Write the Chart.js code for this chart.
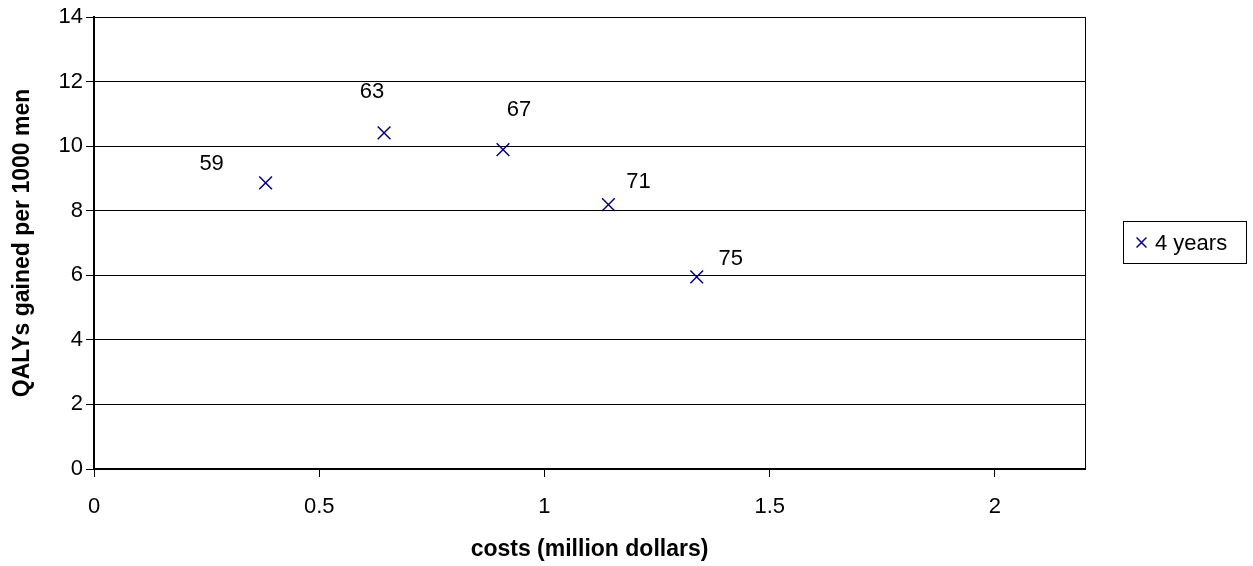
<!DOCTYPE html>
<html>
<head>
<meta charset="utf-8">
<script src="https://cdn.jsdelivr.net/npm/chart.js@4/dist/chart.umd.min.js"></script>
<style>
  html, body { margin: 0; padding: 0; background: #fff; }
  #wrap { width: 1253px; height: 566px; }
</style>
</head>
<body>
<div id="wrap"><canvas id="c" width="1253" height="566"></canvas></div>
<script>
// Screening age at each point, with its cost and QALY gain
const ages = ['59', '63', '67', '71', '75'];
const costs = [0.381, 0.644, 0.908, 1.142, 1.338];
const qalys = [8.86, 10.41, 9.89, 8.19, 5.95];

const xTicks = [0, 0.5, 1, 1.5, 2];
const xTickLabels = ['0', '0.5', '1', '1.5', '2'];
const yTicks = [0, 2, 4, 6, 8, 10, 12, 14];

const seriesName = '4 years';
const xTitle = 'costs (million dollars)';
const yTitle = 'QALYs gained per 1000 men';

// Where each age label sits relative to its marker (px)
const labelOffsets = [[-54, -19], [-12, -41], [16, -40], [30, -23], [34, -18]];

const FONT = "'Liberation Sans', Arial, sans-serif";
const NAVY = '#000080';
Chart.defaults.color = '#000';
Chart.defaults.font.family = FONT;

// Age labels next to the markers
const ageLabels = {
  id: 'ageLabels',
  afterDatasetsDraw(chart) {
    const ctx = chart.ctx;
    const meta = chart.getDatasetMeta(0);
    ctx.save();
    ctx.font = '22px ' + FONT;
    ctx.fillStyle = '#000';
    ctx.textAlign = 'center';
    ctx.textBaseline = 'middle';
    meta.data.forEach((pt, i) => {
      const [dx, dy] = labelOffsets[i];
      ctx.fillText(ages[i], pt.x + dx, pt.y + dy);
    });
    ctx.restore();
  }
};

// Right edge of the plot frame
const frame = {
  id: 'frame',
  afterDraw(chart) {
    const { ctx, chartArea: a } = chart;
    ctx.save();
    ctx.strokeStyle = '#000';
    ctx.lineWidth = 1;
    ctx.beginPath();
    ctx.moveTo(Math.round(a.right) + 0.5, a.top);
    ctx.lineTo(Math.round(a.right) + 0.5, a.bottom);
    ctx.stroke();
    ctx.restore();
  }
};

// Boxed legend to the right of the plot
const boxLegend = {
  id: 'boxLegend',
  afterDraw(chart) {
    const ctx = chart.ctx;
    const ds = chart.data.datasets[0];
    const bx = 1123.5, by = 221.5, bw = 123, bh = 42;
    const cy = by + bh / 2;
    ctx.save();
    ctx.strokeStyle = '#000';
    ctx.lineWidth = 1;
    ctx.strokeRect(bx, by, bw, bh);
    ctx.strokeStyle = ds.borderColor;
    ctx.lineWidth = 1.5;
    Chart.helpers.drawPoint(ctx, { pointStyle: ds.pointStyle, radius: 7, borderWidth: 1.5, rotation: 0 }, 1141.5, cy);
    ctx.fillStyle = '#000';
    ctx.font = '22px ' + FONT;
    ctx.textAlign = 'left';
    ctx.textBaseline = 'middle';
    ctx.fillText(ds.label, 1155, cy + 1);
    ctx.restore();
  }
};

new Chart(document.getElementById('c'), {
  type: 'scatter',
  data: {
    datasets: [{
      label: seriesName,
      data: costs.map((c, i) => ({ x: c, y: qalys[i] })),
      pointStyle: 'crossRot',
      pointRadius: 9,
      pointHoverRadius: 9,
      borderColor: NAVY,
      backgroundColor: NAVY,
      pointBorderWidth: 1.5,
      showLine: false
    }]
  },
  options: {
    responsive: false,
    animation: false,
    devicePixelRatio: 1,
    layout: { padding: { left: 0, top: 17, right: 168, bottom: 0 } },
    plugins: {
      legend: { display: false },
      tooltip: { enabled: false }
    },
    scales: {
      x: {
        type: 'linear',
        min: 0,
        max: 2.2,
        afterBuildTicks: s => { s.ticks = xTicks.map(v => ({ value: v })); },
        afterFit: s => { s.height = 97; },
        ticks: {
          font: { size: 22 }, padding: 17, color: '#000',
          callback: (v, i) => xTickLabels[i]
        },
        grid: { drawOnChartArea: false, drawTicks: true, tickLength: 8, color: '#000', lineWidth: 1 },
        border: { display: true, color: '#000', width: 2 },
        title: { display: true, text: xTitle, font: { size: 23, weight: 'bold' }, padding: { top: 0, bottom: 3 }, color: '#000' }
      },
      y: {
        type: 'linear',
        min: 0,
        max: 14,
        afterBuildTicks: s => { s.ticks = yTicks.map(v => ({ value: v })); },
        afterFit: s => { s.width = 94; },
        ticks: { font: { size: 22 }, padding: 3, color: '#000' },
        grid: { drawOnChartArea: true, drawTicks: true, tickLength: 8, color: '#000', lineWidth: 1 },
        border: { display: true, color: '#000', width: 2 },
        title: { display: true, text: yTitle, font: { size: 23, weight: 'bold' }, padding: { top: 9, bottom: 0 }, color: '#000' }
      }
    }
  },
  plugins: [ageLabels, frame, boxLegend]
});
</script>
</body>
</html>
